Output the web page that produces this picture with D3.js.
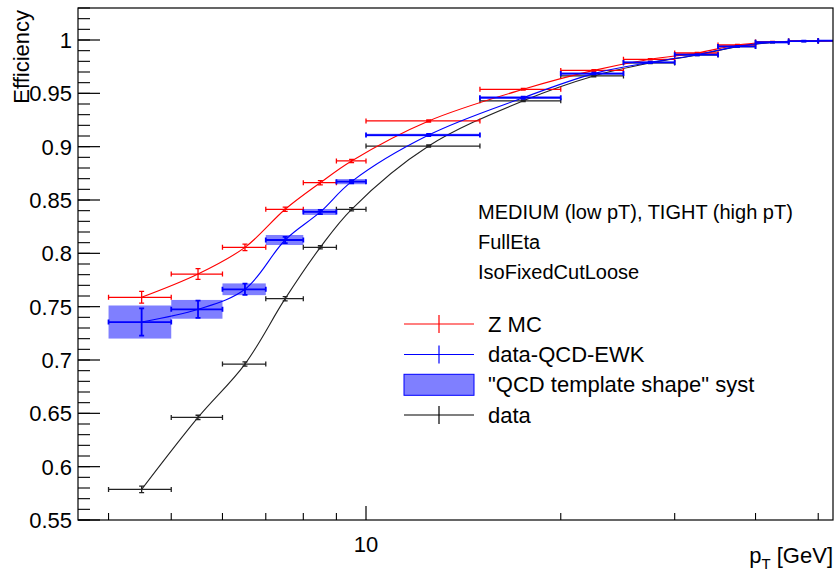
<!DOCTYPE html>
<html>
<head>
<meta charset="utf-8">
<script src="https://cdn.jsdelivr.net/npm/d3@7"></script>
<style>
  html, body { margin: 0; padding: 0; background: #fff; }
  svg { display: block; font-family: "Liberation Sans", Arial, Helvetica, sans-serif; }
</style>
</head>
<body>
<svg id="chart" width="837" height="572"></svg>
<script>
// ---------------- DATA ----------------
const binLow    = [4, 5, 6, 7, 8, 9, 10, 15, 20, 25, 30, 35, 40, 45, 50];
const binHigh   = [5, 6, 7, 8, 9, 10, 15, 20, 25, 30, 35, 40, 45, 50, 60];
const binCenter = [4.5, 5.5, 6.5, 7.5, 8.5, 9.5, 12.5, 17.5, 22.5, 27.5, 32.5, 37.5, 42.5, 47.5, 55];

const zMC        = [0.7588, 0.7806, 0.8056, 0.8413, 0.8662, 0.8866, 0.9241, 0.9538, 0.9715, 0.9819, 0.9878, 0.9953, 0.9982, 0.9991, 0.9994];
const zMCErr     = [0.0055, 0.0050, 0.0030, 0.0020, 0.0020, 0.0015, 0.0010, 0.0008, 0.0008, 0.0006, 0.0006, 0.0005, 0.0004, 0.0004, 0.0004];

const dataQCD    = [0.7356, 0.7475, 0.7663, 0.8125, 0.8388, 0.8672, 0.9109, 0.9459, 0.9685, 0.9790, 0.9862, 0.9940, 0.9979, 0.9990, 0.9994];
const dataQCDErr = [0.0128, 0.0081, 0.0053, 0.0030, 0.0020, 0.0015, 0.0010, 0.0010, 0.0008, 0.0006, 0.0006, 0.0005, 0.0004, 0.0004, 0.0004];
const systErr    = [0.0155, 0.0088, 0.0055, 0.0047, 0.0028, 0.0024, 0.0012, 0.0012, 0.0010, 0.0008, 0.0008, 0.0006, 0.0005, 0.0005, 0.0005];

const dataEff    = [0.5787, 0.6462, 0.6962, 0.7575, 0.8056, 0.8413, 0.9006, 0.9430, 0.9663, 0.9785, 0.9860, 0.9938, 0.9978, 0.9990, 0.9994];
const dataErr    = [0.0030, 0.0020, 0.0020, 0.0020, 0.0015, 0.0015, 0.0010, 0.0008, 0.0008, 0.0006, 0.0006, 0.0005, 0.0004, 0.0004, 0.0004];

const yTickValues = [0.55, 0.6, 0.65, 0.7, 0.75, 0.8, 0.85, 0.9, 0.95, 1.0];
const yTickLabels = ["0.55", "0.6", "0.65", "0.7", "0.75", "0.8", "0.85", "0.9", "0.95", "1"];
const xMinorTicks = [4, 5, 6, 7, 8, 9, 20, 30, 40, 50];
const xMajorTicks = [10];
const xTickLabels = ["10"];

const legendLabels = ["Z MC", "data-QCD-EWK", "\"QCD template shape\" syst", "data"];
const infoLines = ["MEDIUM (low pT), TIGHT (high pT)", "FullEta", "IsoFixedCutLoose"];

// ---------------- LAYOUT ----------------
const W = 837, H = 572;
const L = 78, R = 833, T = 8, B = 520;
const svg = d3.select("#chart");

const x = d3.scaleLog().domain([3.588, 52.7]).range([L, R]);
const y = d3.scaleLinear().domain([0.55, 1.03]).range([B, T]);

svg.append("defs").append("clipPath").attr("id", "frameClip")
  .append("rect").attr("x", L).attr("y", T).attr("width", R - L).attr("height", B - T);

const plot = svg.append("g").attr("clip-path", "url(#frameClip)");

const colRed = "#ff0000", colBlue = "#0000ff", colBlack = "#000000";

function makeSeries(vals) {
  return binCenter.map((c, i) => ({c, lo: binLow[i], hi: binHigh[i], v: vals[i]}));
}

// syst boxes
plot.selectAll("rect.syst").data(makeSeries(dataQCD)).enter().append("rect")
  .attr("class", "syst")
  .attr("x", d => x(d.lo))
  .attr("width", d => x(d.hi) - x(d.lo))
  .attr("y", (d, i) => y(d.v + systErr[i]))
  .attr("height", (d, i) => Math.max(1.5, y(d.v - systErr[i]) - y(d.v + systErr[i])))
  .attr("fill", "rgba(0,0,255,0.5)");

const curve = d3.line()
  .x(d => x(d.c))
  .y(d => y(d.v))
  .curve(d3.curveCatmullRom.alpha(0.5));

function drawGraph(vals, errs, color, lw) {
  const s = makeSeries(vals);
  const g = plot.append("g");
  g.append("path").datum(s).attr("d", curve)
    .attr("fill", "none").attr("stroke", color).attr("stroke-width", 1.1);
  const cap = 2.5;
  s.forEach((d, i) => {
    const cx = x(d.c), cy = y(d.v);
    const x0 = x(d.lo), x1 = x(d.hi);
    const yt = y(d.v + errs[i]), yb = y(d.v - errs[i]);
    const p = d3.path();
    p.moveTo(x0, cy); p.lineTo(x1, cy);
    p.moveTo(x0, cy - cap); p.lineTo(x0, cy + cap);
    p.moveTo(x1, cy - cap); p.lineTo(x1, cy + cap);
    p.moveTo(cx, yt); p.lineTo(cx, yb);
    p.moveTo(cx - cap, yt); p.lineTo(cx + cap, yt);
    p.moveTo(cx - cap, yb); p.lineTo(cx + cap, yb);
    g.append("path").attr("d", p.toString())
      .attr("fill", "none").attr("stroke", color).attr("stroke-width", lw);
  });
}

drawGraph(dataEff, dataErr, "#222", 1.3);
drawGraph(zMC, zMCErr, colRed, 1.3);
drawGraph(dataQCD, dataQCDErr, colBlue, 1.8);

// ---------------- FRAME & AXES ----------------
svg.append("rect").attr("x", L).attr("y", T).attr("width", R - L).attr("height", B - T)
  .attr("fill", "none").attr("stroke", "#000").attr("stroke-width", 1.2);

// y ticks
const yMinor = d3.range(55, 104).map(v => v / 100);
svg.append("g").selectAll("line").data(yMinor).enter().append("line")
  .attr("x1", L).attr("x2", L + 12)
  .attr("y1", d => y(d)).attr("y2", d => y(d))
  .attr("stroke", "#000").attr("stroke-width", 1.1);
svg.append("g").selectAll("line").data(yTickValues).enter().append("line")
  .attr("x1", L).attr("x2", L + 22)
  .attr("y1", d => y(d)).attr("y2", d => y(d))
  .attr("stroke", "#000").attr("stroke-width", 1.2);
svg.append("g").selectAll("text").data(yTickValues).enter().append("text")
  .attr("x", L - 6).attr("y", d => y(d) + 8)
  .attr("text-anchor", "end").attr("font-size", 22).attr("fill", "#000")
  .text((d, i) => yTickLabels[i]);

// x ticks
svg.append("g").selectAll("line").data(xMinorTicks).enter().append("line")
  .attr("x1", d => x(d)).attr("x2", d => x(d))
  .attr("y1", B).attr("y2", B - 7)
  .attr("stroke", "#000").attr("stroke-width", 1.1);
svg.append("g").selectAll("line").data(xMajorTicks).enter().append("line")
  .attr("x1", d => x(d)).attr("x2", d => x(d))
  .attr("y1", B).attr("y2", B - 14)
  .attr("stroke", "#000").attr("stroke-width", 1.2);
svg.append("g").selectAll("text").data(xMajorTicks).enter().append("text")
  .attr("x", d => x(d)).attr("y", 552)
  .attr("text-anchor", "middle").attr("font-size", 22).attr("fill", "#000")
  .text((d, i) => xTickLabels[i]);

// axis titles
const xt = svg.append("text").attr("x", R).attr("y", 563)
  .attr("text-anchor", "end").attr("font-size", 22).attr("fill", "#000");
xt.append("tspan").text("p");
xt.append("tspan").attr("font-size", 15).attr("dy", 6).text("T");
xt.append("tspan").attr("dy", -6).text(" [GeV]");

svg.append("text")
  .attr("transform", "translate(28.5,10) rotate(-90)")
  .attr("text-anchor", "end").attr("font-size", 22).attr("fill", "#000")
  .text("Efficiency");

// info text
svg.append("g").selectAll("text").data(infoLines).enter().append("text")
  .attr("x", 478).attr("y", (d, i) => 218.5 + i * 30)
  .attr("font-size", 20).attr("fill", "#000")
  .text(d => d);

// ---------------- LEGEND ----------------
const legY = [324, 354.5, 384.8, 415];
const lx0 = 404, lx1 = 474, lxm = 439, ltx = 488;
const leg = svg.append("g");
// Z MC
leg.append("line").attr("x1", lx0).attr("x2", lx1).attr("y1", legY[0]).attr("y2", legY[0]).attr("stroke", colRed).attr("stroke-width", 1.2);
leg.append("line").attr("x1", lxm).attr("x2", lxm).attr("y1", legY[0] - 9).attr("y2", legY[0] + 9).attr("stroke", colRed).attr("stroke-width", 1.2);
// data-QCD-EWK
leg.append("line").attr("x1", lx0).attr("x2", lx1).attr("y1", legY[1]).attr("y2", legY[1]).attr("stroke", colBlue).attr("stroke-width", 1.2);
leg.append("line").attr("x1", lxm).attr("x2", lxm).attr("y1", legY[1] - 9).attr("y2", legY[1] + 9).attr("stroke", colBlue).attr("stroke-width", 1.2);
// syst box
leg.append("rect").attr("x", lx0).attr("y", legY[2] - 10.5).attr("width", lx1 - lx0).attr("height", 21)
  .attr("fill", "rgba(0,0,255,0.5)").attr("stroke", colBlue).attr("stroke-width", 1);
// data
leg.append("line").attr("x1", lx0).attr("x2", lx1).attr("y1", legY[3]).attr("y2", legY[3]).attr("stroke", "#555").attr("stroke-width", 1.5);
leg.append("line").attr("x1", lxm).attr("x2", lxm).attr("y1", legY[3] - 9).attr("y2", legY[3] + 9).attr("stroke", colBlack).attr("stroke-width", 1.2);

leg.selectAll("text").data(legendLabels).enter().append("text")
  .attr("x", ltx).attr("y", (d, i) => legY[i] + 7.5)
  .attr("font-size", 22).attr("fill", "#000")
  .text(d => d);
</script>
</body>
</html>
